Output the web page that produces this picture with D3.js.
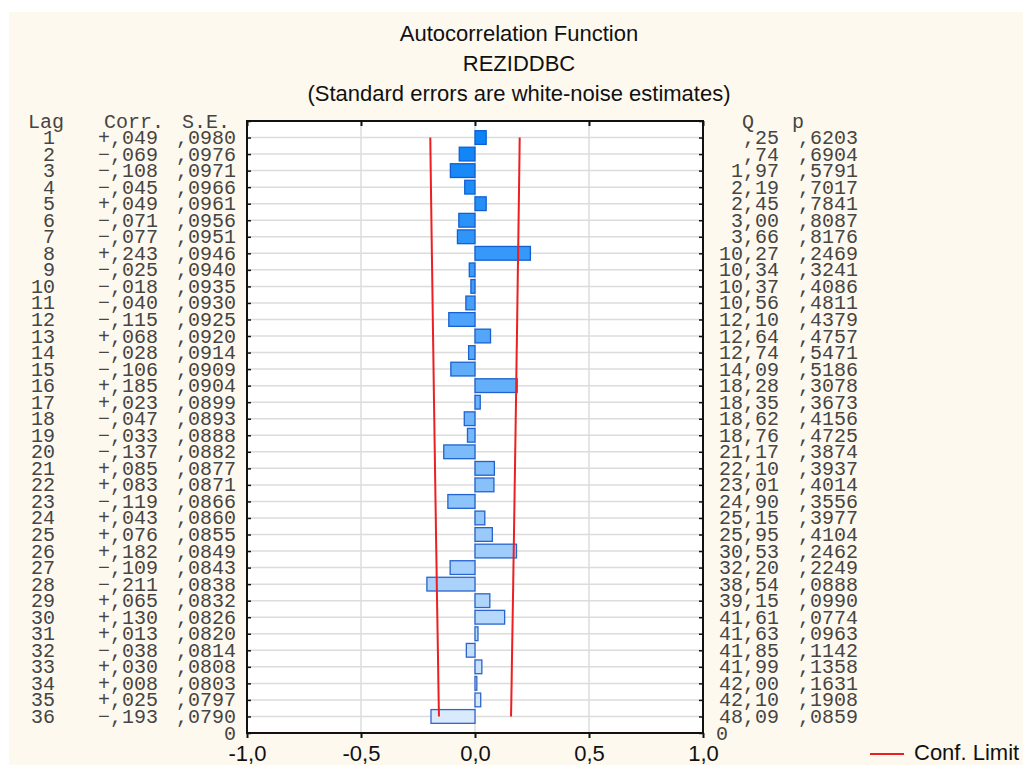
<!DOCTYPE html>
<html>
<head>
<meta charset="utf-8">
<script src="https://cdn.jsdelivr.net/npm/d3@7"></script>
<style>
  html, body { margin: 0; padding: 0; background: #ffffff; }
  svg { display: block; }
</style>
</head>
<body>
<script>
// ---------- DATA ----------
const titleLines = ["Autocorrelation Function", "REZIDDBC", "(Standard errors are white-noise estimates)"];
const lags = d3.range(1, 37);
const corr = [0.049, -0.069, -0.108, -0.045, 0.049, -0.071, -0.077, 0.243, -0.025, -0.018,
  -0.040, -0.115, 0.068, -0.028, -0.106, 0.185, 0.023, -0.047, -0.033, -0.137,
  0.085, 0.083, -0.119, 0.043, 0.076, 0.182, -0.109, -0.211, 0.065, 0.130,
  0.013, -0.038, 0.030, 0.008, 0.025, -0.193];
const se = [0.0980, 0.0976, 0.0971, 0.0966, 0.0961, 0.0956, 0.0951, 0.0946, 0.0940, 0.0935,
  0.0930, 0.0925, 0.0920, 0.0914, 0.0909, 0.0904, 0.0899, 0.0893, 0.0888, 0.0882,
  0.0877, 0.0871, 0.0866, 0.0860, 0.0855, 0.0849, 0.0843, 0.0838, 0.0832, 0.0826,
  0.0820, 0.0814, 0.0808, 0.0803, 0.0797, 0.0790];
const qStat = [0.25, 0.74, 1.97, 2.19, 2.45, 3.00, 3.66, 10.27, 10.34, 10.37,
  10.56, 12.10, 12.64, 12.74, 14.09, 18.28, 18.35, 18.62, 18.76, 21.17,
  22.10, 23.01, 24.90, 25.15, 25.95, 30.53, 32.20, 38.54, 39.15, 41.61,
  41.63, 41.85, 41.99, 42.00, 42.10, 48.09];
const pVal = [0.6203, 0.6904, 0.5791, 0.7017, 0.7841, 0.8087, 0.8176, 0.2469, 0.3241, 0.4086,
  0.4811, 0.4379, 0.4757, 0.5471, 0.5186, 0.3078, 0.3673, 0.4156, 0.4725, 0.3874,
  0.3937, 0.4014, 0.3556, 0.3977, 0.4104, 0.2462, 0.2249, 0.0888, 0.0990, 0.0774,
  0.0963, 0.1142, 0.1358, 0.1631, 0.1908, 0.0859];
const xTicks = [-1, -0.5, 0, 0.5, 1];
const xTickLabels = ["-1,0", "-0,5", "0,0", "0,5", "1,0"];
const confMultiplier = 2;
const legendLabel = "Conf. Limit";

// ---------- LAYOUT ----------
const W = 1023, H = 765;
const plot = { left: 247, right: 703, top: 121, bottom: 733 };

const svg = d3.select("body").append("svg").attr("width", W).attr("height", H);

svg.append("rect").attr("x", 9).attr("y", 12).attr("width", W - 9).attr("height", H - 12)
  .attr("fill", "#fef9ef");

const x = d3.scaleLinear().domain([-1, 1]).range([plot.left, plot.right]);
const y = d3.scaleLinear().domain([0, 37]).range([plot.top, plot.bottom]);
const rowH = y(1) - y(0);

// plot background
svg.append("rect").attr("x", plot.left).attr("y", plot.top)
  .attr("width", plot.right - plot.left).attr("height", plot.bottom - plot.top)
  .attr("fill", "#ffffff");

// horizontal gridlines
svg.append("g").selectAll("line").data(lags).join("line")
  .attr("x1", plot.left).attr("x2", plot.right)
  .attr("y1", d => y(d)).attr("y2", d => y(d))
  .attr("stroke", "#dcdcdc").attr("stroke-width", 1.5);

// vertical gridlines
svg.append("g").selectAll("line").data(xTicks.filter(t => t > -1 && t < 1)).join("line")
  .attr("x1", d => x(d)).attr("x2", d => x(d))
  .attr("y1", plot.top).attr("y2", plot.bottom)
  .attr("stroke", "#dcdcdc").attr("stroke-width", 1.5);

// bars
const fillScale = d3.scaleLinear().domain([1, 36]).range(["#0d83f7", "#d9eafc"]).interpolate(d3.interpolateRgb);
const strokeScale = d3.scaleLinear().domain([1, 36]).range(["#0f5fd0", "#2f66cc"]).interpolate(d3.interpolateRgb);
const barH = rowH * 0.83;
svg.append("g").selectAll("rect").data(lags).join("rect")
  .attr("x", (d, i) => x(Math.min(0, corr[i])))
  .attr("width", (d, i) => Math.abs(x(corr[i]) - x(0)))
  .attr("y", d => y(d) - barH / 2)
  .attr("height", barH)
  .attr("fill", d => fillScale(d))
  .attr("stroke", d => strokeScale(d))
  .attr("stroke-width", 1.3);

// confidence limits
const line = d3.line();
const upper = lags.map((d, i) => [x(confMultiplier * se[i]), y(d)]);
const lower = lags.map((d, i) => [x(-confMultiplier * se[i]), y(d)]);
[upper, lower].forEach(pts => {
  svg.append("path").attr("d", line(pts)).attr("fill", "none")
    .attr("stroke", "#ec1f22").attr("stroke-width", 2);
});

// frame
svg.append("rect").attr("x", plot.left).attr("y", plot.top)
  .attr("width", plot.right - plot.left).attr("height", plot.bottom - plot.top)
  .attr("fill", "none").attr("stroke", "#111").attr("stroke-width", 2);

// axis ticks
const bottomAxis = d3.axisBottom(x).tickValues(xTicks).tickFormat((d, i) => xTickLabels[i]).tickSizeInner(5).tickSizeOuter(0).tickPadding(7);
const gx = svg.append("g").attr("transform", `translate(0,${plot.bottom})`).call(bottomAxis);
gx.select(".domain").remove();
gx.selectAll(".tick line").attr("stroke", "#111").attr("stroke-width", 2);
gx.selectAll(".tick text").attr("font-family", "Liberation Sans, Arial, sans-serif")
  .attr("font-size", 22).attr("fill", "#111");

const topAxis = d3.axisBottom(x).tickValues(xTicks).tickFormat("").tickSizeInner(5).tickSizeOuter(0);
const gt = svg.append("g").attr("transform", `translate(0,${plot.top})`).call(topAxis);
gt.select(".domain").remove();
gt.selectAll(".tick line").attr("stroke", "#111").attr("stroke-width", 2);

const rowTicks = d3.range(0, 38);
const leftAxis = d3.axisRight(y).tickValues(rowTicks).tickFormat("").tickSizeInner(4).tickSizeOuter(0);
const gl = svg.append("g").attr("transform", `translate(${plot.left},0)`).call(leftAxis);
gl.select(".domain").remove();
gl.selectAll(".tick line").attr("stroke", "#111").attr("stroke-width", 1.5);
const rightAxis = d3.axisLeft(y).tickValues(rowTicks).tickFormat("").tickSizeInner(4).tickSizeOuter(0);
const gr = svg.append("g").attr("transform", `translate(${plot.right},0)`).call(rightAxis);
gr.select(".domain").remove();
gr.selectAll(".tick line").attr("stroke", "#111").attr("stroke-width", 1.5);

// title
svg.append("g").selectAll("text").data(titleLines).join("text")
  .attr("x", 519).attr("y", (d, i) => 41 + i * 30)
  .attr("text-anchor", "middle")
  .attr("font-family", "Liberation Sans, Arial, sans-serif")
  .attr("font-size", 22).attr("fill", "#111")
  .text(d => d);

// text table
const mono = "Liberation Mono, Courier New, monospace";
const tcol = "#454545";
const fmtCorr = v => (v >= 0 ? "+" : "\u2212") + "," + d3.format("03d")(Math.round(Math.abs(v) * 1000));
const fmt4 = v => "," + d3.format("04d")(Math.round(v * 10000));
const fmtQ = v => {
  const s = v.toFixed(2).replace(".", ",");
  return s.startsWith("0,") ? s.slice(1) : s;
};
const baseY = d => y(d) + 6.5;
const table = svg.append("g").attr("font-family", mono).attr("font-size", 20).attr("fill", tcol);

// headers
[["Lag", 28, "start"], ["Corr.", 104, "start"], ["S.E.", 182, "start"], ["Q", 742, "start"], ["p", 792, "start"]]
  .forEach(([t, xx, a]) => table.append("text").attr("x", xx).attr("y", baseY(0)).attr("text-anchor", a).text(t));

const cols = [
  { xx: 55, f: (d, i) => String(d) },
  { xx: 158, f: (d, i) => fmtCorr(corr[i]) },
  { xx: 236, f: (d, i) => fmt4(se[i]) },
  { xx: 779, f: (d, i) => fmtQ(qStat[i]) },
  { xx: 858, f: (d, i) => fmt4(pVal[i]) }
];
cols.forEach(c => {
  table.append("g").selectAll("text").data(lags).join("text")
    .attr("x", c.xx).attr("y", d => baseY(d)).attr("text-anchor", "end")
    .text(c.f);
});
table.append("text").attr("x", 236).attr("y", baseY(37)).attr("text-anchor", "end").text("0");
table.append("text").attr("x", 716).attr("y", baseY(37)).attr("text-anchor", "start").text("0");

// legend
svg.append("line").attr("x1", 870).attr("x2", 904).attr("y1", 754).attr("y2", 754)
  .attr("stroke", "#ec1f22").attr("stroke-width", 2);
svg.append("text").attr("x", 914).attr("y", 760)
  .attr("font-family", "Liberation Sans, Arial, sans-serif").attr("font-size", 22).attr("fill", "#111")
  .text(legendLabel);
</script>
</body>
</html>
